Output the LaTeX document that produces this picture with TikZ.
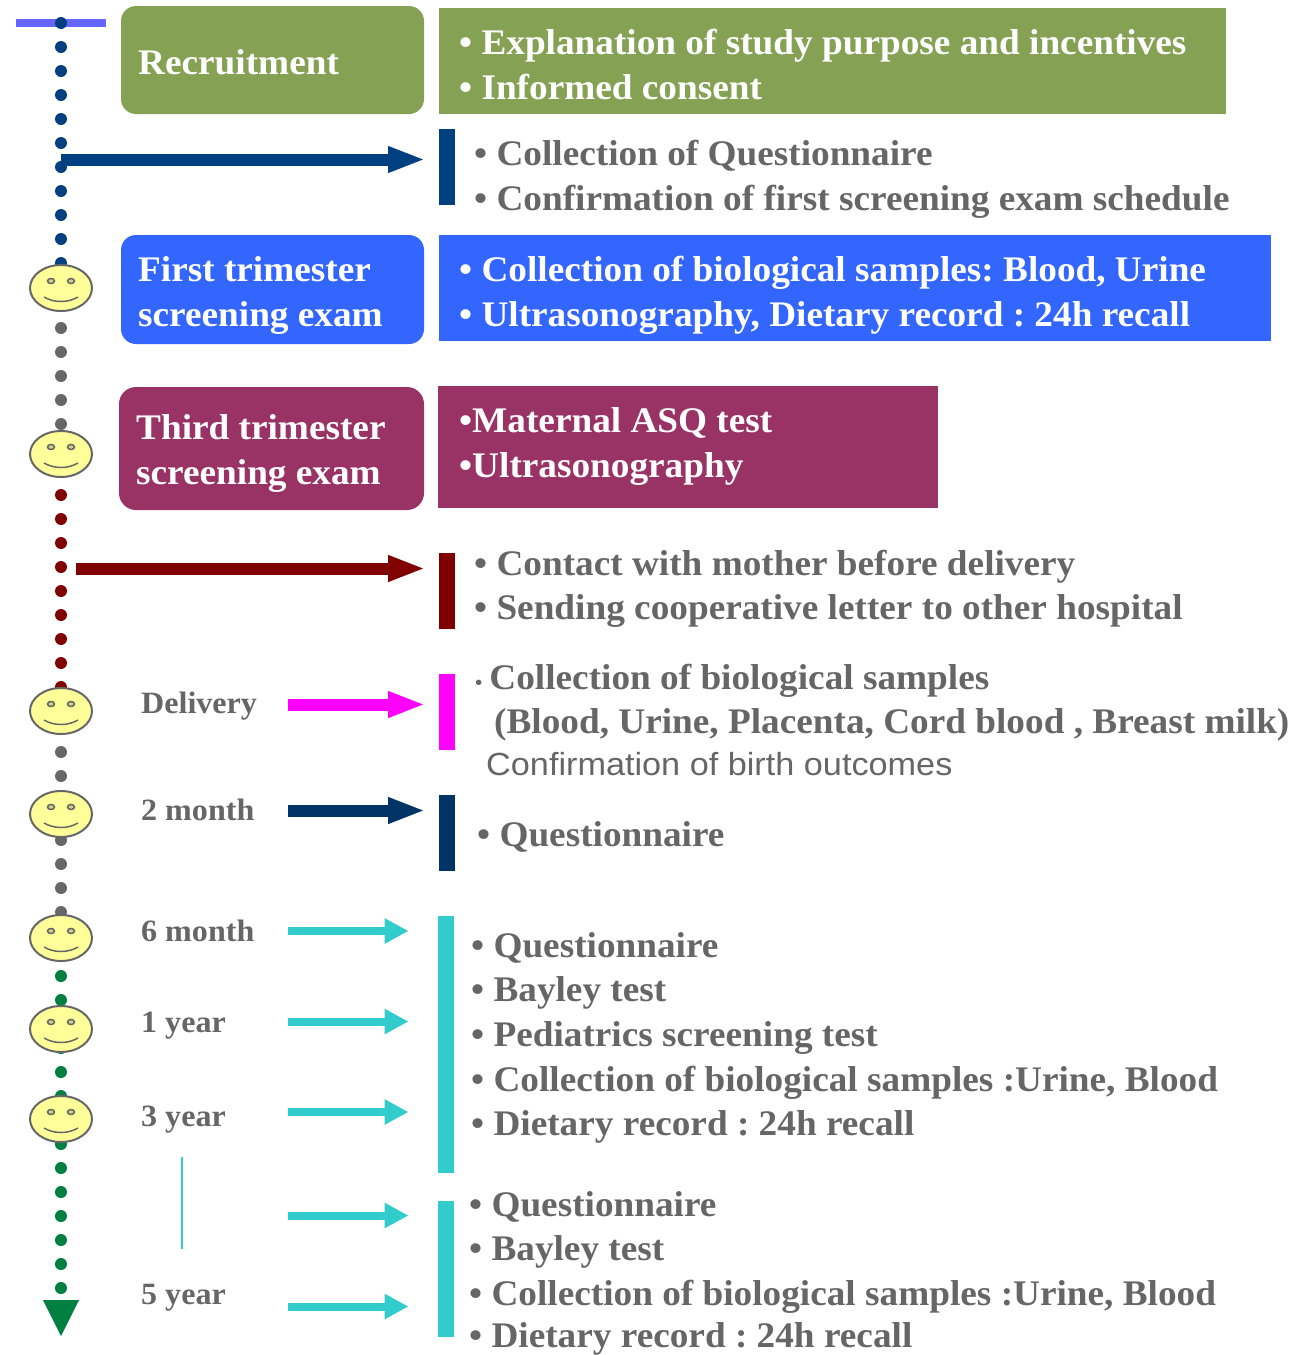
\documentclass[tikz,border=0pt]{standalone}
\usepackage{fontspec}
\setmainfont[FakeStretch=1.035]{Liberation Serif}
\newfontfamily\plainfont[FakeStretch=1.07]{Liberation Sans}
\usetikzlibrary{arrows.meta,shapes.geometric}
\definecolor{olivebox}{HTML}{85A254}
\definecolor{bluebox}{HTML}{3366FF}
\definecolor{plumbox}{HTML}{993366}
\definecolor{navyone}{HTML}{004080}
\definecolor{navytwo}{HTML}{003366}
\definecolor{darkred}{HTML}{800000}
\definecolor{pinkbar}{HTML}{FF00FF}
\definecolor{tealbar}{HTML}{33CCCC}
\definecolor{greendot}{HTML}{008040}
\definecolor{textgray}{HTML}{666666}
\definecolor{startline}{HTML}{6666FF}
\definecolor{faceyellow}{HTML}{FFFF99}
\begin{document}
\frenchspacing
\begin{tikzpicture}[x=1pt,y=-1pt,
    no/.style={anchor=base west,inner sep=0pt,font=\fontsize{36}{36}\selectfont\bfseries,text=textgray},
    white text/.style={no,text=white},
    age/.style={no,font=\fontsize{31}{31}\selectfont\bfseries},
    face/.style={ellipse,draw=textgray,line width=2pt,fill=faceyellow,minimum width=62pt,minimum height=46pt,inner sep=0pt},
    block/.style={line width=12pt,-{Triangle[length=37.5pt,width=24pt]}},
    thin block/.style={line width=8pt,-{Triangle[length=24pt,width=24pt]},tealbar}]
    \useasboundingbox (0,0) rectangle (1300,1355);

    % time line
    \draw[startline,line width=8pt] (16,23) -- (106,23);
    \foreach \y in {23,47,...,263} \fill[navyone] (61,\y) circle (6);
    \foreach \y in {328,352,376,400,424,752,776,840,864,888,912} \fill[textgray] (61,\y) circle (6);
    \foreach \y in {447,471,...,687} \fill[darkred] (61,\y) circle (6);
    \foreach \y in {976,1000,...,1288} \fill[greendot] (61,\y) circle (6);
    \fill[greendot] (43,1300) -- (79,1300) -- (61,1336) -- cycle;

    \foreach \i/\y in {1/288,2/454,3/711,4/814,5/938,6/1029,7/1119} {
      \node (f\i) at (61,\y) [face] {};
      \draw[textgray,line width=1.5pt,fill=faceyellow!70!textgray] (51,\y-7) ellipse [x radius=3.5,y radius=2.5];
      \draw[textgray,line width=1.5pt,fill=faceyellow!70!textgray] (71,\y-7) ellipse [x radius=3.5,y radius=2.5];
      \draw[textgray,line width=1.5pt] (44,\y+9) .. controls (54,\y+15) and (68,\y+15) .. (78,\y+9);
    }

    % coloured boxes
    \fill[olivebox,rounded corners=15pt] (121,6) rectangle (424,114);
    \fill[olivebox] (439,8) rectangle (1226,114);
    \fill[bluebox,rounded corners=15pt] (121,235) rectangle (424,344);
    \fill[bluebox] (439,235) rectangle (1271,341);
    \fill[plumbox,rounded corners=17pt] (119,387) rectangle (424,510);
    \fill[plumbox] (438,386) rectangle (938,508);

    \node (b1) at (138,74) [white text] {Recruitment};
    \node (b2) at (138,281) [white text] {First trimester};
    \node (b3) at (138,326) [white text] {screening exam};
    \node (b4) at (136,439) [white text] {Third trimester};
    \node (b5) at (136,484) [white text] {screening exam};

    \node (t1) at (459,54) [white text] {• Explanation of study purpose and incentives};
    \node (t2) at (459,99) [white text] {• Informed consent};
    \node (t3) at (459,281) [white text] {• Collection of biological samples: Blood, Urine};
    \node (t4) at (459,326) [white text] {• Ultrasonography, Dietary record : 24h recall};
    \node (t5) at (459,432) [white text] {•Maternal ASQ test};
    \node (t6) at (459,477) [white text] {•Ultrasonography};

    % bars
    \fill[navyone] (439,129) rectangle (455,205);
    \fill[darkred] (439,553) rectangle (455,629);
    \fill[pinkbar] (439,674) rectangle (455,750);
    \fill[navytwo] (439,795) rectangle (455,871);
    \fill[tealbar] (438,916) rectangle (454,1173);
    \fill[tealbar] (438,1201) rectangle (454,1337);

    % arrows
    \coordinate (a1) at (61,159.5);   \coordinate (e1) at (425.5,159.5);
    \coordinate (a2) at (76,568.5);   \coordinate (e2) at (425.5,568.5);
    \coordinate (a3) at (288,704.5);  \coordinate (e3) at (425.5,704.5);
    \coordinate (a4) at (288,810.5);  \coordinate (e4) at (425.5,810.5);
    \draw[block,navyone] (a1) -- (e1);
    \draw[block,darkred] (a2) -- (e2);
    \draw[block,pinkbar] (a3) -- (e3);
    \draw[block,navytwo] (a4) -- (e4);
    \foreach \i/\y in {5/931,6/1021.5,7/1112,8/1215.5,9/1306.5} {
      \coordinate (a\i) at (288,\y);
      \coordinate (e\i) at (408.5,\y);
      \draw[thin block] (a\i) -- (e\i);
    }
    \coordinate (v1) at (182,1157);
    \coordinate (v2) at (182,1249);
    \draw[tealbar,line width=1.5pt] (v1) -- (v2);

    % time labels
    \node (l1) at (141,713.5) [age] {Delivery};
    \node (l2) at (141,820) [age] {2 month};
    \node (l3) at (141,941) [age] {6 month};
    \node (l4) at (141,1032) [age] {1 year};
    \node (l5) at (141,1126) [age] {3 year};
    \node (l6) at (141,1304) [age] {5 year};

    % grey lists
    \node (g1) at (474,165) [no] {• Collection of Questionnaire};
    \node (g2) at (474,210) [no] {• Confirmation of first screening exam schedule};
    \node (g3) at (474,575) [no] {• Contact with mother before delivery};
    \node (g4) at (474,619) [no] {• Sending cooperative letter to other hospital};
    \node (g5) at (475,689) [no] {\fontsize{20}{20}\selectfont•\hspace{7pt}\fontsize{36}{36}\selectfont Collection of biological samples};
    \node (g6) at (494,733) [no] {(Blood, Urine, Placenta, Cord blood , Breast milk)};
    \node (g7) at (486,775) [no,font=\fontsize{32}{32}\plainfont] {Confirmation of birth outcomes};
    \node (g8) at (477,846) [no] {• Questionnaire};
    \node (g9) at (471,957) [no] {• Questionnaire};
    \node (g10) at (471,1001) [no] {• Bayley test};
    \node (g11) at (471,1046) [no] {• Pediatrics screening test};
    \node (g12) at (471,1091) [no] {• Collection of biological samples :Urine, Blood};
    \node (g13) at (471,1135) [no] {• Dietary record : 24h recall};
    \node (g14) at (469,1216) [no] {• Questionnaire};
    \node (g15) at (469,1260) [no] {• Bayley test};
    \node (g16) at (469,1305) [no] {• Collection of biological samples :Urine, Blood};
    \node (g17) at (469,1347) [no] {• Dietary record : 24h recall};
\end{tikzpicture}
\end{document}
